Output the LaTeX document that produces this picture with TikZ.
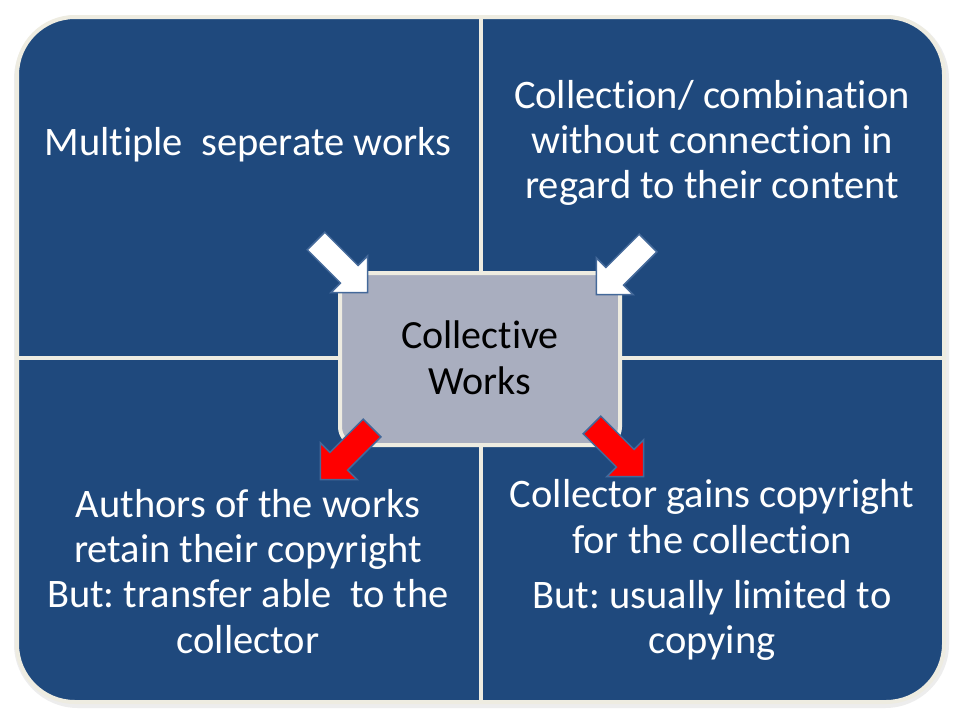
\documentclass[tikz,border=0pt]{standalone}
\usepackage{fontspec}
\setmainfont[Ligatures={NoCommon}]{Carlito}
\frenchspacing
\definecolor{quadblue}{HTML}{1F497D}
\definecolor{cream}{HTML}{EEECE1}
\definecolor{centerfill}{HTML}{A9AEBF}
\definecolor{arrowline}{HTML}{44699A}
\definecolor{arrowred}{HTML}{FF0000}
\newcommand{\myblockarrow}[4]{%
  \filldraw[blockarrow, fill=#3, shift={#1}, rotate=#2] (0,-12.5) -- (47,-12.5) -- (47,-26) -- (73,0) -- (47,26) -- (47,12.5) -- (0,12.5) -- cycle;}
\begin{document}
\begin{tikzpicture}[x=1pt,y=-1pt,
  quadtext/.style={text=white, font=\fontsize{40.5}{45}\selectfont, anchor=base, inner sep=0pt},
  ctext/.style={text=black, font=\fontsize{40}{46}\selectfont, anchor=base, inner sep=0pt},
  blockarrow/.style={draw=arrowline, line width=1.5pt, line join=miter},
  quadframe/.style={fill=quadblue, draw=cream, line width=4pt, rounded corners=58pt},
  divider/.style={draw=cream, line width=4pt},
  centerbox/.style={draw=cream, fill=centerfill, line width=4pt, rounded corners=18pt, minimum width=280pt, minimum height=172pt, inner sep=0pt}
]
\useasboundingbox (0,0) rectangle (960,720);
\fill[white] (0,0) rectangle (960,720);
% soft shadow
\draw[black!7, line width=8pt, rounded corners=60pt] (18,19) rectangle (945,704);
% quadrants
\filldraw[quadframe] (17,17) rectangle (944,702);
\draw[divider] (481,17) -- (481,702);
\draw[divider] (17,358) -- (944,358);
% centre box
\node[centerbox] (center) at (480,359) {};
\node[ctext] (c1) at (480,348) {Collective};
\node[ctext] (c2) at (480,394) {Works};
% arrows
\myblockarrow{(316,241)}{-45}{white}{}
\myblockarrow{(648,243)}{-135}{white}{}
\myblockarrow{(372,428)}{-135}{arrowred}{}
\myblockarrow{(592,425)}{-45}{arrowred}{}
% texts
\node[quadtext] (tl1) at (248,155) {Multiple\ \ seperate works};
\node[quadtext] (tr1) at (712,108) {Collection/ combination};
\node[quadtext] (tr2) at (712,153) {without connection in};
\node[quadtext] (tr3) at (712,198) {regard to their content};
\node[quadtext] (bl1) at (248,517) {Authors of the works};
\node[quadtext] (bl2) at (248,562) {retain their copyright};
\node[quadtext] (bl3) at (248,607) {But: transfer able\ \ to the};
\node[quadtext] (bl4) at (248,653) {collector};
\node[quadtext] (br1) at (712,507) {Collector gains copyright};
\node[quadtext] (br2) at (712,553) {for the collection};
\node[quadtext] (br3) at (712,608) {But: usually limited to};
\node[quadtext] (br4) at (712,653) {copying};
\end{tikzpicture}
\end{document}
